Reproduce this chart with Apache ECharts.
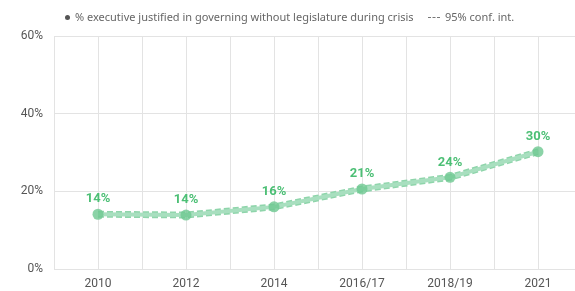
<!DOCTYPE html>
<html>
<head>
<meta charset="utf-8">
<script src="https://cdn.jsdelivr.net/npm/echarts@6/dist/echarts.min.js"></script>
<style>html,body{margin:0;padding:0;background:#fff;overflow:hidden}#main{width:585px;height:291px}</style>
</head>
<body>
<div id="main"></div>
<script>
var categories = ['2010', '2012', '2014', '2016/17', '2018/19', '2021'];
var values = [14.1, 13.9, 16.0, 20.6, 23.6, 30.2];
var ciLow = [13.6, 13.4, 15.5, 20.1, 23.1, 29.7];
var ciHigh = [14.6, 14.4, 16.5, 21.1, 24.1, 30.7];
var yTicks = [0, 20, 40, 60];

var mainName = '% executive justified in governing without legislature during crisis';
var ciName = '95% conf. int.';

function pairs(arr) {
	return arr.map(function (v, i) { return [i, v]; });
}

// the plot runs ~10px past the right edge of the window, as in the source
var chart = echarts.init(document.getElementById('main'));
var legendText = { color: '#666', fontSize: 11, fontFamily: 'Noto Sans' };
var option = {
	animation: false,
	legend: [
		{
			top: 7,
			left: 60,
			itemWidth: 5,
			itemHeight: 5,
			textStyle: legendText,
			data: [{ name: mainName, icon: 'circle', itemStyle: { color: '#555' } }]
		},
		{
			top: 7,
			left: 423,
			itemWidth: 12,
			itemHeight: 1,
			textStyle: legendText,
			data: [{ name: ciName, icon: 'path://M0,0h3v1h-3zM4.5,0h3v1h-3zM9,0h3v1h-3z', itemStyle: { color: '#777' } }]
		}
	],
	grid: { left: 54, right: 0, top: 36, bottom: 22 },
	xAxis: {
		type: 'value',
		min: -0.5,
		max: 5.5,
		interval: 0.5,
		axisLine: { show: false },
		axisTick: { show: false },
		splitLine: { lineStyle: { color: '#e3e3e3' } },
		axisLabel: {
			color: '#555',
			fontSize: 12,
			fontFamily: 'Roboto',
			margin: 9,
			formatter: function (v) {
				return Number.isInteger(v) ? (categories[v] || '') : '';
			}
		}
	},
	yAxis: {
		type: 'value',
		min: yTicks[0],
		max: yTicks[yTicks.length - 1],
		interval: 20,
		axisLine: { show: false },
		axisTick: { show: false },
		splitLine: { lineStyle: { color: '#e3e3e3' } },
		axisLabel: { color: '#555', fontSize: 12, fontFamily: 'Roboto', margin: 11, formatter: '{value}%' }
	},
	series: [
		{
			name: ciName,
			type: 'line',
			data: pairs(ciLow),
			symbol: 'none',
			itemStyle: { color: '#777' },
			lineStyle: { color: '#8fd5ab', width: 3, type: [6, 3] },
			z: 2
		},
		{
			name: ciName,
			type: 'line',
			data: pairs(ciHigh),
			symbol: 'none',
			itemStyle: { color: '#777' },
			lineStyle: { color: '#8fd5ab', width: 3, type: [6, 3] },
			z: 2
		},
		{
			name: mainName,
			type: 'line',
			data: pairs(values),
			symbol: 'circle',
			symbolSize: 11,
			itemStyle: { color: 'rgba(110,200,145,0.8)' },
			lineStyle: { color: '#a8dfbf', width: 4 },
			label: {
				show: true,
				position: 'top',
				distance: 3,
				color: '#4cbf75',
				fontWeight: 'bold',
				fontSize: 13,
				fontFamily: 'Roboto',
				formatter: function (p) { return Math.round(p.value[1]) + '%'; }
			},
			z: 3
		}
	]
};
chart.setOption(option);
</script>
</body>
</html>
